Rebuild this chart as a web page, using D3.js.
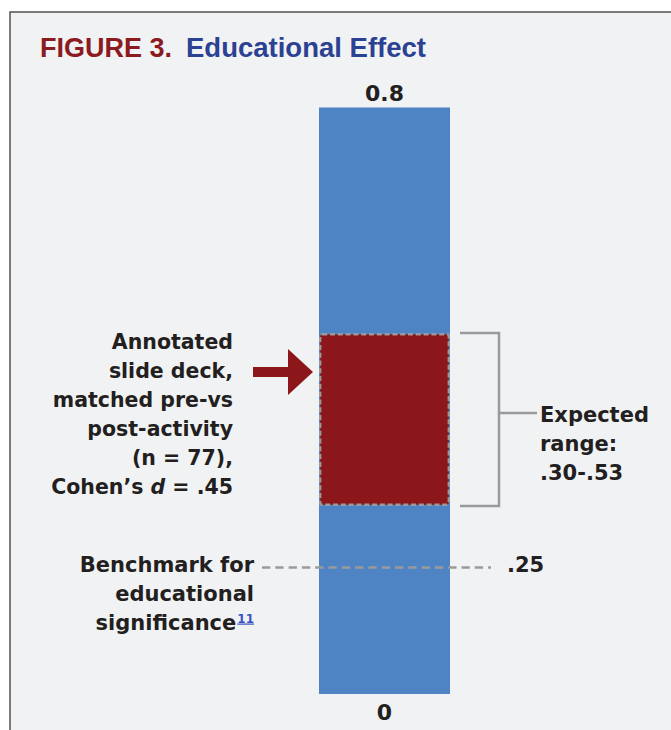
<!DOCTYPE html>
<html>
<head>
<meta charset="utf-8">
<script src="https://cdn.jsdelivr.net/npm/d3@7"></script>
<style>
  html, body { margin: 0; padding: 0; background: #ffffff; }
  svg { display: block; }
</style>
</head>
<body>
<div id="chart"></div>
<script>
// ---------- data ----------
const titleParts = ["FIGURE 3.", "Educational Effect"];
const category = ["Educational effect"];
const scaleEnds = [0, 0.8];
const scaleLabels = ["0", "0.8"];
const benchmarkValue = 0.25;
const benchmarkLabel = ".25";
const benchmarkText = ["Benchmark for", "educational", "significance"];
const benchmarkFootnote = "11";
const expectedRange = [0.30, 0.53];
const expectedText = ["Expected", "range:", ".30-.53"];
const resultText = ["Annotated", "slide deck,", "matched pre-vs", "post-activity", "(n = 77),"];
const resultLastLine = [["Cohen’s ", "normal"], ["d", "italic"], [" = .45", "normal"]];

// ---------- layout ----------
const W = 671, H = 730;
const bodyFont = "'DejaVu Sans', 'Liberation Sans', sans-serif";
const titleFont = "'Liberation Sans', Arial, sans-serif";
const ink = "#231f20";
const grey = "#9a9a9a";

const svg = d3.select("#chart").append("svg")
  .attr("width", W).attr("height", H);

svg.append("rect").attr("x", 0).attr("y", 0).attr("width", W).attr("height", H).attr("fill", "#ffffff");
svg.append("rect")
  .attr("x", 10).attr("y", 12).attr("width", W + 20).attr("height", H + 20)
  .attr("fill", "#f1f2f4").attr("stroke", "#505050").attr("stroke-width", 1.5);

// title
const t = svg.append("text").attr("x", 40).attr("y", 56.5)
  .attr("font-family", titleFont).attr("font-weight", "bold").attr("font-size", 27);
t.append("tspan").attr("fill", "#8c1b1f").text(titleParts[0]);
t.append("tspan").attr("x", 186).attr("fill", "#2b4192")
  .attr("textLength", 240).attr("lengthAdjust", "spacingAndGlyphs").text(titleParts[1]);

// scales (schematic, piecewise linear)
const x = d3.scaleBand().domain(category).range([319, 450]).padding(0);
const y = d3.scaleLinear()
  .domain([scaleEnds[0], benchmarkValue, expectedRange[0], expectedRange[1], scaleEnds[1]])
  .range([694, 567.5, 506, 333, 107.5]);

const cx = x(category[0]) + x.bandwidth() / 2;

// main bar
svg.append("g").selectAll("rect").data(category).join("rect")
  .attr("x", d => x(d)).attr("width", x.bandwidth())
  .attr("y", y(scaleEnds[1])).attr("height", y(scaleEnds[0]) - y(scaleEnds[1]))
  .attr("fill", "#4f84c4");

// expected range box
svg.append("rect")
  .attr("x", x(category[0]) + 1.2).attr("width", x.bandwidth() - 2.4)
  .attr("y", y(expectedRange[1]) + 1.2).attr("height", y(expectedRange[0]) - y(expectedRange[1]) - 2.4)
  .attr("rx", 2)
  .attr("fill", "#8b171b").attr("stroke", grey).attr("stroke-width", 2.4)
  .attr("stroke-dasharray", "5,2.8");

// scale end labels
svg.append("g").selectAll("text").data(scaleEnds).join("text")
  .attr("x", cx)
  .attr("y", (d, i) => i === 0 ? y(d) + 26 : y(d) - 6.5)
  .attr("text-anchor", "middle")
  .attr("font-family", bodyFont).attr("font-weight", "bold").attr("font-size", 22)
  .attr("fill", ink)
  .text((d, i) => scaleLabels[i]);

// benchmark dashed line
const by = y(benchmarkValue);
svg.append("line")
  .attr("x1", 262).attr("x2", 491).attr("y1", by).attr("y2", by)
  .attr("stroke", grey).attr("stroke-width", 2.5).attr("stroke-dasharray", "8.3,5");
svg.append("text").attr("x", 507).attr("y", by + 4.5)
  .attr("font-family", bodyFont).attr("font-weight", "bold").attr("font-size", 21)
  .attr("fill", ink).text(benchmarkLabel);

// benchmark text
benchmarkText.forEach((line, i) => {
  const lineT = svg.append("text")
    .attr("x", 254).attr("y", by + 4 + i * 29)
    .attr("text-anchor", "end")
    .attr("font-family", bodyFont).attr("font-weight", "bold").attr("font-size", 21)
    .attr("fill", ink);
  lineT.append("tspan").text(line);
  if (i === benchmarkText.length - 1) {
    lineT.append("tspan").attr("dx", 1).attr("dy", -7)
      .attr("font-size", 12).attr("fill", "#3a52c4")
      .attr("text-decoration", "underline")
      .text(benchmarkFootnote);
  }
});

// bracket for expected range
const bTop = y(expectedRange[1]), bBot = y(expectedRange[0]);
const bx0 = 460, bx1 = 499, tickY = bTop + 80;
svg.append("path")
  .attr("d", `M${bx0},${bTop}H${bx1}V${bBot}H${bx0}M${bx1},${tickY}H537`)
  .attr("fill", "none").attr("stroke", grey).attr("stroke-width", 2.5);

svg.append("g").selectAll("text").data(expectedText).join("text")
  .attr("x", 540).attr("y", (d, i) => tickY + 9 + i * 29)
  .attr("font-family", bodyFont).attr("font-weight", "bold").attr("font-size", 21)
  .attr("fill", ink).text(d => d);

// result annotation
const r0 = bTop + 16;
svg.append("g").selectAll("text").data(resultText).join("text")
  .attr("x", 233).attr("y", (d, i) => r0 + i * 29)
  .attr("text-anchor", "end")
  .attr("font-family", bodyFont).attr("font-weight", "bold").attr("font-size", 20.5)
  .attr("fill", ink).text(d => d);
const last = svg.append("text")
  .attr("x", 233).attr("y", r0 + resultText.length * 29)
  .attr("text-anchor", "end")
  .attr("font-family", bodyFont).attr("font-weight", "bold").attr("font-size", 20.5)
  .attr("fill", ink);
resultLastLine.forEach(([s, st]) => last.append("tspan").attr("font-style", st).text(s));

// arrow pointing to the box (aligned with 2nd line)
const ay = r0 + 29 - 6;
const ax0 = 253, axh = 288, axt = 313;
svg.append("path")
  .attr("d", `M${ax0},${ay - 5}H${axh}V${ay - 23}L${axt},${ay}L${axh},${ay + 23}V${ay + 5}H${ax0}Z`)
  .attr("fill", "#8b171b");
</script>
</body>
</html>
